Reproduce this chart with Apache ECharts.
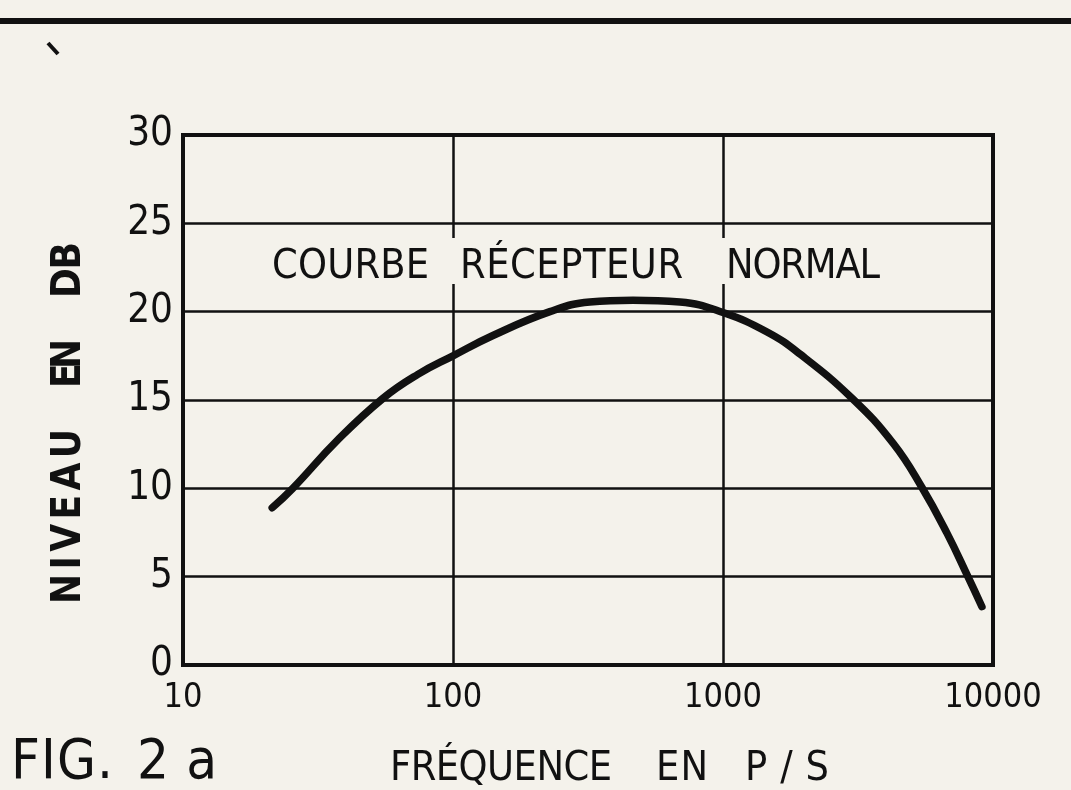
<!DOCTYPE html>
<html>
<head>
<meta charset="utf-8">
<script src="https://cdn.jsdelivr.net/npm/echarts@6/dist/echarts.min.js"></script>
<style>
html,body{margin:0;padding:0;background:#f4f2eb;}
#c{width:1071px;height:790px;}
</style>
</head>
<body>
<div id="c"></div>
<script>
// Data (frequency in P/S, level in dB)
const freq  = [21.4, 25.5, 37.2, 55.1, 74.1, 100, 140.6, 228.5, 321, 464, 693, 1000, 1456, 1928, 3005, 4266, 5457, 6761, 8075, 9100];
const level = [8.9, 10.0, 12.7, 15.1, 16.45, 17.5, 18.65, 20.0, 20.55, 20.65, 20.55, 19.95, 18.85, 17.6, 15.1, 12.55, 10.05, 7.45, 5.0, 3.3];
const xTickLabels = ['10', '100', '1000', '10000'];
const yTickLabels = ['0', '5', '10', '15', '20', '25', '30'];
const curveTitle = ['COURBE', 'RÉCEPTEUR', 'NORMAL'];
const yTitle = ['NIVEAU', 'EN', 'DB'];
const xTitle = ['FRÉQUENCE', 'EN', 'P/S'];
const figLabel = ['FIG.', '2a'];

const chart = echarts.init(document.getElementById('c'));
const fontFam = '"DejaVu Sans Condensed", "DejaVu Sans", sans-serif';
const ink = '#111';
const paper = '#f4f2eb';
const mctx = document.createElement('canvas').getContext('2d');

// Lay a word out letter by letter so its ink spans a given length
function spaced(txt, x, y, size, span, opts) {
  opts = opts || {};
  const font = (opts.weight || 'normal') + ' ' + size + 'px ' + fontFam;
  mctx.font = font;
  const chars = Array.from(txt);
  const w = chars.map(c => mctx.measureText(c).width);
  const natural = w.reduce((a, b) => a + b, 0);
  const extra = chars.length > 1 ? (span - natural) / (chars.length - 1) : 0;
  const rot = opts.rot || 0;
  const out = [];
  let p = 0;
  chars.forEach((c, i) => {
    const px = rot ? x : x + p;
    const py = rot ? y - p : y;
    out.push({
      type: 'text', x: px, y: py, rotation: rot, z: 30,
      style: {text: c, font: font, fill: ink, textVerticalAlign: 'top', textAlign: 'left'}
    });
    p += w[i] + extra;
  });
  return out;
}

chart.setOption({
  backgroundColor: paper,
  animation: false,
  grid: {
    left: 183, right: 78, top: 135, bottom: 125,
    show: true, borderColor: ink, borderWidth: 4, backgroundColor: 'transparent'
  },
  xAxis: {
    type: 'log', logBase: 10, min: 10, max: 10000,
    axisLine: {show: true, lineStyle: {color: ink, width: 4}},
    axisTick: {show: false},
    splitLine: {show: true, lineStyle: {color: ink, width: 2.5}},
    axisLabel: {
      color: ink, fontFamily: fontFam, fontSize: 34, margin: 16,
      formatter: function (v) { const s = String(Math.round(v)); return xTickLabels.indexOf(s) >= 0 ? s : ''; }
    }
  },
  yAxis: {
    type: 'value', min: 0, max: 30, interval: 5,
    axisLine: {show: true, lineStyle: {color: ink, width: 4}},
    axisTick: {show: false},
    splitLine: {show: true, lineStyle: {color: ink, width: 2.5}},
    axisLabel: {
      color: ink, fontFamily: fontFam, fontSize: 40, margin: 10,
      formatter: function (v) { return yTickLabels[Math.round(v / 5)]; }
    }
  },
  series: [{
    type: 'line',
    data: freq.map((f, i) => [f, level[i]]),
    smooth: 0.45,
    symbol: 'none',
    lineStyle: {color: ink, width: 7.5, cap: 'round'},
    z: 5
  }],
  graphic: [].concat(
    [
      {type: 'rect', shape: {x: 0, y: 18, width: 1071, height: 6}, style: {fill: ink}, z: 10},
      {type: 'line', shape: {x1: 48, y1: 43, x2: 58, y2: 54}, style: {stroke: ink, lineWidth: 4}, z: 10},
      {type: 'rect', shape: {x: 262, y: 238, width: 628, height: 46}, style: {fill: paper}, z: 20}
    ],
    spaced(curveTitle[0], 272, 247, 41, 157),
    spaced(curveTitle[1], 460, 247, 41, 223),
    spaced(curveTitle[2], 726, 247, 41, 154),
    spaced(yTitle[0], 50, 604, 40, 175, {rot: Math.PI / 2, weight: 'bold'}),
    spaced(yTitle[1], 50, 388, 40, 49, {rot: Math.PI / 2, weight: 'bold'}),
    spaced(yTitle[2], 50, 298, 40, 56, {rot: Math.PI / 2, weight: 'bold'}),
    spaced(xTitle[0], 390, 749, 41, 222),
    spaced(xTitle[1], 656, 749, 41, 52),
    spaced(xTitle[2], 745, 749, 41, 84),
    spaced(figLabel[0], 11, 735, 56, 102),
    spaced(figLabel[1], 137, 735, 56, 80)
  )
});
</script>
</body>
</html>
